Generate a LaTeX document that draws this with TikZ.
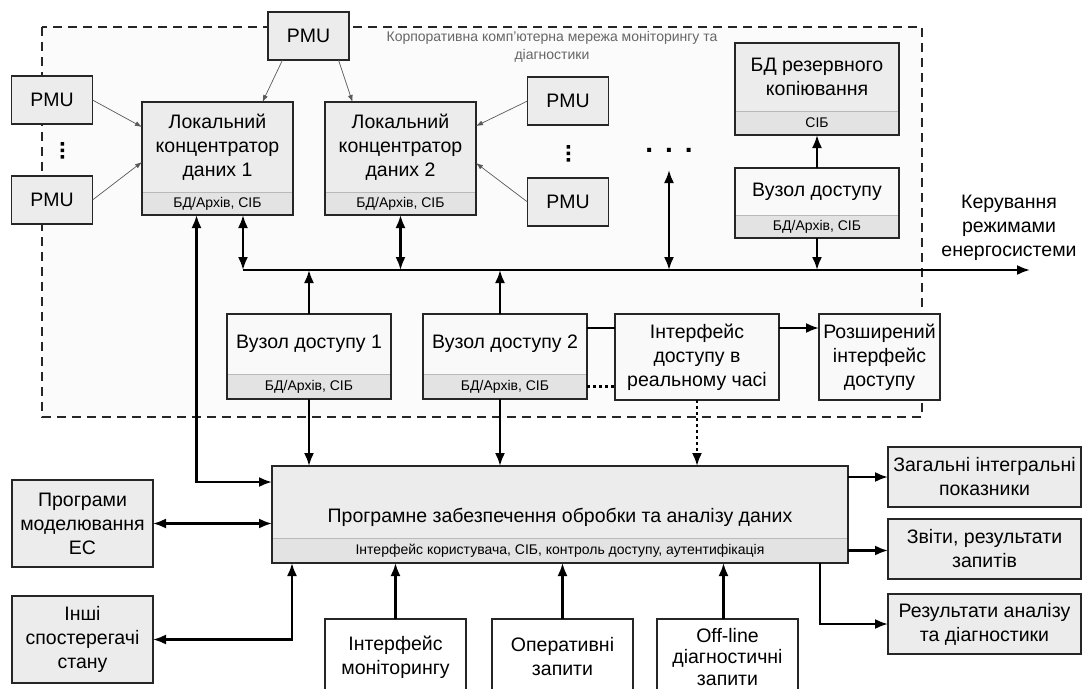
\documentclass[tikz,border=0pt]{standalone}
\usepackage{fontspec}
\setmainfont{Liberation Sans}
\usepackage{tikz}
\usetikzlibrary{arrows.meta,positioning}

\newcommand\boxfont{\fontsize{19.5}{24}\selectfont}
\newcommand\stripfont{\fontsize{14}{16}\selectfont}
\newcommand\netfont{\fontsize{14}{18}\selectfont}

\begin{document}
\begin{tikzpicture}[
  x=1pt, y=-1pt,
  box/.style={draw=black!85, line width=1.3pt, fill=gray!15, align=center,
              outer sep=0pt, inner sep=1pt, font=\boxfont},
  pmu/.style={box, minimum width=81pt, minimum height=48pt},
  head/.style={box, draw=none},
  strip/.style={draw=gray!55, line width=0.6pt, fill=gray!22, outer sep=0pt,
                inner sep=0pt, font=\stripfont},
  frame/.style={draw=black!85, line width=1.3pt},
  arrow/.style={-{Latex[length=13pt,width=10pt]}, line width=2.2pt},
  twoway/.style={{Latex[length=13pt,width=10pt]}-{Latex[length=13pt,width=10pt]},
                 line width=2.2pt},
  link/.style={line width=2.2pt},
  dotlink/.style={line width=2.2pt, dash pattern=on 3pt off 3pt},
  pmuarrow/.style={-{Latex[length=7pt,width=5pt]}, draw=black!65, line width=0.7pt}
]
  \useasboundingbox (0,0) rectangle (1083,688);
  \clip (0,0) rectangle (1083,688);

  % --- monitoring network area --------------------------------------
  \draw[draw=black!85, line width=1.2pt, dash pattern=on 9pt off 6pt, fill=gray!3]
    (42,27) rectangle (922,417);
  \node[font=\netfont, text=black!60, align=center] (netlabel) at (552,47)
    {Корпоративна комп'ютерна мережа моніторингу та\\діагностики};

  % --- PMU ------------------------------------------------------------
  \node[pmu] (pmu-top) at (308.5,36) {PMU};
  \node[pmu] (pmu-l1) at (52,100) {PMU};
  \node[pmu] (pmu-l2) at (52,200) {PMU};
  \node[pmu] (pmu-r1) at (568,101) {PMU};
  \node[pmu] (pmu-r2) at (568,202) {PMU};
  \fill (60.5,142) rectangle +(3.5,3.5) (60.5,148.5) rectangle +(3.5,3.5)
        (60.5,155) rectangle +(3.5,3.5);
  \fill (566.5,145) rectangle +(3.5,3.5) (566.5,151.5) rectangle +(3.5,3.5)
        (566.5,158) rectangle +(3.5,3.5);
  \node[font=\fontsize{28}{28}\selectfont\bfseries, anchor=base] (more) at (669,152)
    {.\hspace{12pt}.\hspace{12pt}.};

  % --- concentrators ----------------------------------------------------
  \node[head, minimum width=151pt, minimum height=90pt] (conc1) at (217.5,147)
    {Локальний\\концентратор\\даних 1};
  \node[strip, minimum width=151pt, minimum height=23pt, below=0pt of conc1] (conc1-db)
    {БД/Архів, СІБ};
  \node[head, minimum width=151pt, minimum height=90pt, right=32pt of conc1] (conc2)
    {Локальний\\концентратор\\даних 2};
  \node[strip, minimum width=151pt, minimum height=23pt, below=0pt of conc2] (conc2-db)
    {БД/Архів, СІБ};

  % --- backup ------------------------------------------------------------
  \node[head, minimum width=164pt, minimum height=68pt] (backup) at (817,77)
    {БД резервного\\копіювання};
  \node[strip, minimum width=164pt, minimum height=24pt, below=0pt of backup] (backup-db)
    {СІБ};
  \node[head, fill=gray!5, minimum width=164pt, minimum height=47pt] (gate) at (817,191.5)
    {Вузол доступу};
  \node[strip, minimum width=164pt, minimum height=23pt, below=0pt of gate] (gate-db)
    {БД/Архів, СІБ};

  % --- access nodes --------------------------------------------------------
  \node[head, fill=gray!5, minimum width=164pt, minimum height=60pt] (gate1) at (309,344)
    {Вузол доступу 1};
  \node[strip, minimum width=164pt, minimum height=25pt, below=0pt of gate1] (gate1-db)
    {БД/Архів, СІБ};
  \node[head, fill=gray!5, minimum width=164pt, minimum height=60pt, right=32pt of gate1] (gate2)
    {Вузол доступу 2};
  \node[strip, minimum width=164pt, minimum height=25pt, below=0pt of gate2] (gate2-db)
    {БД/Архів, СІБ};
  \node[box, fill=gray!5, minimum width=164pt, minimum height=86pt] (rt) at (697,357)
    {Інтерфейс\\доступу в\\реальному часі};
  \node[box, fill=gray!5, minimum width=121pt, minimum height=86pt] (ext) at (879.5,357)
    {Розширений\\інтерфейс\\доступу};

  % --- processing software ---------------------------------------------------
  \node[head, minimum width=576pt, minimum height=72pt, text height=40pt, text depth=0pt]
    (prog) at (560,502) {Програмне забезпечення обробки та аналізу даних};
  \node[strip, minimum width=576pt, minimum height=25pt, below=0pt of prog] (prog-db)
    {Інтерфейс користувача, СІБ, контроль доступу, аутентифікація};

  \draw[frame] (conc1.north west) rectangle (conc1-db.south east);
  \draw[frame] (conc2.north west) rectangle (conc2-db.south east);
  \draw[frame] (backup.north west) rectangle (backup-db.south east);
  \draw[frame] (gate.north west) rectangle (gate-db.south east);
  \draw[frame] (gate1.north west) rectangle (gate1-db.south east);
  \draw[frame] (gate2.north west) rectangle (gate2-db.south east);
  \draw[frame] (prog.north west) rectangle (prog-db.south east);

  % --- left column -------------------------------------------------------------
  \node[box, minimum width=141pt, minimum height=87pt] (models) at (82.5,523.5)
    {Програми\\моделювання\\ЕС};
  \node[box, minimum width=141pt, minimum height=87pt] (others) at (82.5,639.5)
    {Інші\\спостерегачі\\стану};

  % --- bottom row ----------------------------------------------------------------
  \node[box, fill=white, minimum width=141pt, minimum height=76pt] (monitor) at (395.5,657)
    {Інтерфейс\\моніторингу};
  \node[box, fill=white, minimum width=141pt, minimum height=76pt, right=26pt of monitor] (queries)
    {Оперативні\\запити};
  \node[box, fill=white, minimum width=141pt, minimum height=76pt, right=24pt of queries,
        font=\fontsize{19.5}{21.5}\selectfont] (offline)
    {Off-line\\діагностичні\\запити};

  % --- right column -----------------------------------------------------------------
  \node[box, minimum width=193pt, minimum height=60pt] (out-sum) at (984.5,477)
    {Загальні інтегральні\\показники};
  \node[box, minimum width=193pt, minimum height=60pt, below=12pt of out-sum] (out-rep)
    {Звіти, результати\\запитів};
  \node[box, minimum width=193pt, minimum height=60pt, below=15pt of out-rep] (out-res)
    {Результати аналізу\\та діагностики};
  \node[font=\boxfont, align=center] (control) at (1009,228)
    {Керування\\режимами\\енергосистеми};

  % --- bus ---------------------------------------------------------------------------
  \coordinate (bus-w) at (243,270);
  \coordinate (bus-e) at (1030,270);
  \coordinate (more-end) at (669,170);
  \draw[arrow] (bus-w) -- (bus-e);

  % --- arrows ------------------------------------------------------------------------
  \draw[pmuarrow] ([xshift=-26pt]pmu-top.south) -- ([xshift=45pt]conc1.north);
  \draw[pmuarrow] ([xshift=30pt]pmu-top.south) -- ([xshift=-48pt]conc2.north);
  \draw[pmuarrow] (pmu-l1.east) -- ([yshift=20pt]conc1.west);
  \draw[pmuarrow] (pmu-l2.east) -- ([yshift=-15pt]conc1.west);
  \draw[pmuarrow] (pmu-r1.west) -- ([yshift=21pt]conc2.east);
  \draw[pmuarrow] (pmu-r2.west) -- ([yshift=-16pt]conc2.east);

  \draw[twoway] (bus-w |- conc1-db.south) -- (bus-w);
  \draw[twoway] (conc2-db.south) -- (conc2-db.south |- bus-w);
  \draw[twoway] (more-end) -- (more-end |- bus-w);
  \draw[arrow] (gate.north) -- (backup-db.south);
  \draw[arrow] (gate-db.south) -- (gate-db.south |- bus-w);
  \draw[arrow] (gate1.north) -- (gate1.north |- bus-w);
  \draw[arrow] ([xshift=-5pt]gate2.north) -- ([xshift=-5pt]gate2.north |- bus-w);

  \draw[arrow] (gate1-db.south) -- (gate1-db.south |- prog.north);
  \draw[arrow] ([xshift=-5pt]gate2-db.south) -- ([xshift=-5pt]gate2-db.south |- prog.north);
  \draw[link] ([yshift=16pt]gate2.east) -- ([yshift=16pt]gate2.east -| rt.west);
  \draw[dotlink] (gate2-db.east) -- (gate2-db.east -| rt.west);
  \draw[arrow] ([yshift=29pt]rt.east) -- ([yshift=29pt]rt.east -| ext.west);
  \draw[arrow, dotlink] (rt.south) -- (rt.south |- prog.north);

  \draw[twoway] ([xshift=-21pt]conc1-db.south) |- ([yshift=20pt]prog.west);
  \draw[twoway] (models.east) -- (models.east -| prog.west);
  \draw[twoway] (others.east) -| ([xshift=20pt]prog-db.south west);
  \draw[arrow] (monitor.north) -- (monitor.north |- prog-db.south);
  \draw[arrow] (queries.north) -- (queries.north |- prog-db.south);
  \draw[arrow] ([xshift=-4pt]offline.north) -- ([xshift=-4pt]offline.north |- prog-db.south);
  \draw[arrow] (out-sum.west -| prog.east) -- (out-sum.west);
  \draw[arrow] (prog-db.east) -- (prog-db.east -| out-rep.west);
  \draw[arrow] ([xshift=260pt]prog-db.south) |- (out-res.west);
\end{tikzpicture}
\end{document}
